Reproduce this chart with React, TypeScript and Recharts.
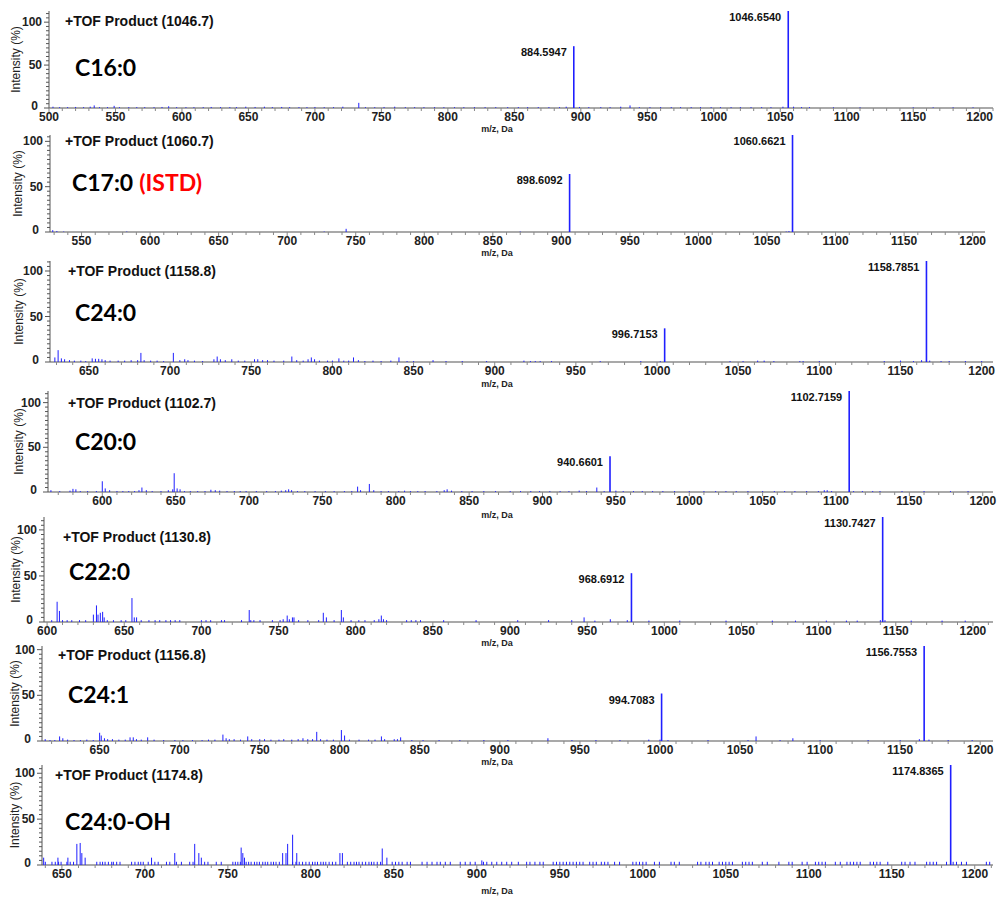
import React from 'react';
import { ScatterChart, Scatter, XAxis, YAxis } from 'recharts';

type Peak = [number, number];
type Main = { mz: number; h: number; label: string };

// x tick labels shared by all panels (each panel keeps the ones inside its range)
const mzLabels = [500, 550, 600, 650, 700, 750, 800, 850, 900, 950, 1000, 1050, 1100, 1150, 1200];
const intensityLabels = [0, 50, 100];

// ---- C16:0 ----
const c16Main: Main[] = [
  { mz: 894.7, h: 72, label: '884.5947' },
  { mz: 1056, h: 113, label: '1046.6540' },
];
const c16Noise: Peak[] = [
  [503, 1.5], [508, 1], [514, 1], [520, 1.2], [526, 1], [531, 1.5], [534, 3], [538, 1], [544, 1], [549, 2.5],
  [553, 1], [560, 1], [566, 1], [572, 1], [579, 1], [585, 1.2], [590, 2], [596, 1], [603, 1], [609, 1],
  [616, 1], [622, 1.2], [629, 1], [636, 1], [641, 1], [648, 1.5], [655, 1.2], [662, 1.5], [668, 1], [675, 1.2],
  [681, 1], [688, 1], [694, 1], [700, 1.2], [707, 1], [714, 1], [721, 1.5], [733, 6], [738, 1], [745, 1],
  [752, 1.2], [760, 1.5], [768, 1], [775, 1], [782, 1], [790, 1], [797, 1], [805, 1], [812, 1], [820, 1],
  [828, 1], [836, 1], [845, 1], [853, 1], [860, 1], [868, 1], [876, 1], [884, 1], [889, 1.5], [899, 1.2],
  [906, 1], [915, 1], [922, 1], [930, 1.5], [937, 3], [944, 1], [952, 1], [960, 1], [968, 1], [975, 1],
  [983, 1], [990, 1], [998, 1], [1005, 1], [1013, 1], [1020, 1], [1028, 1], [1036, 1], [1043, 1], [1052, 1.5],
  [1060, 1.5], [1066, 1], [1072, 1], [1090, 0.8], [1110, 0.8], [1150, 0.8], [1165, 0.8], [1180, 0.8], [1195, 0.8],
];

// ---- C17:0 (ISTD) ----
const c17Main: Main[] = [
  { mz: 906, h: 64, label: '898.6092' },
  { mz: 1068.6, h: 107, label: '1060.6621' },
];
const c17Noise: Peak[] = [
  [529, 2], [532, 1], [537, 0.5], [583, 0.5], [727, 0.5], [743, 3.5], [870, 0.5], [1064, 0.5], [1066, 1],
];

// ---- C24:0 ----
const c24Main: Main[] = [
  { mz: 1004.7, h: 37, label: '996.7153' },
  { mz: 1166, h: 111, label: '1158.7851' },
];
const c24Noise: Peak[] = [
  [629, 5], [631, 13], [633, 4], [635, 3], [638, 2], [641, 1.5], [645, 1.5], [648, 1], [652, 4], [654, 3.5],
  [656, 3.5], [658, 3], [660, 2], [663, 1.5], [668, 1.5], [672, 1.5], [676, 2], [680, 2], [682, 10], [684, 2],
  [688, 1.5], [692, 1.5], [696, 1], [702, 10], [706, 2], [709, 3], [711, 2], [715, 1.5], [720, 1], [727, 3],
  [729, 6], [731, 3], [734, 2], [738, 3], [742, 1.5], [746, 1.5], [752, 3], [754, 3], [757, 2], [760, 2],
  [764, 1.5], [770, 1.5], [775, 6], [778, 2], [782, 1.5], [785, 3], [787, 5], [789, 3], [792, 1.5], [797, 1.5],
  [800, 1.5], [804, 4], [807, 1.5], [810, 1.5], [813, 5], [816, 2], [820, 1], [825, 1.5], [830, 1], [836, 1.5],
  [841, 5], [846, 1], [850, 1], [862, 2], [870, 1], [880, 1], [895, 1], [918, 1.5], [922, 1], [925, 1],
  [928, 1], [935, 1], [965, 1], [990, 1], [1002, 1], [1045, 1], [1053, 1], [1062, 1.5], [1066, 1.5], [1072, 1],
  [1088, 1], [1090, 1], [1100, 1], [1140, 1], [1150, 1.5], [1158, 1], [1163, 2], [1168, 1.5], [1175, 1], [1180, 1],
  [1190, 1], [1200, 1],
];

// ---- C20:0 ----
const c20Main: Main[] = [
  { mz: 946, h: 40, label: '940.6601' },
  { mz: 1109, h: 113, label: '1102.7159' },
];
const c20Noise: Peak[] = [
  [565, 2], [571, 1], [578, 1.5], [580, 3.5], [582, 3], [585, 1], [590, 1], [596, 1], [600, 12], [602, 4],
  [605, 2], [610, 1], [614, 1], [618, 1], [622, 1], [625, 2], [627, 5], [630, 2], [634, 1], [640, 1],
  [645, 2], [648, 3], [649, 21], [651, 4], [653, 3], [656, 1], [660, 1], [665, 1], [670, 1], [674, 2.5],
  [677, 2], [680, 1.5], [685, 1], [690, 1], [694, 1], [698, 1], [705, 1], [712, 1], [718, 1], [722, 1.5],
  [725, 2], [727, 3], [729, 2], [733, 1], [738, 1], [745, 1], [752, 1], [758, 1], [765, 1], [770, 1],
  [774, 6], [776, 2], [782, 9], [785, 2], [790, 1], [795, 1], [802, 1], [806, 1.5], [810, 1], [815, 1],
  [820, 1], [828, 1], [833, 2], [835, 3], [838, 1.5], [845, 1], [852, 1], [860, 1], [868, 1], [878, 1],
  [885, 1], [892, 1], [898, 1], [905, 1], [912, 1], [918, 1], [925, 1.5], [930, 1], [937, 5], [942, 1],
  [950, 1.5], [955, 1], [962, 1], [968, 1], [975, 1], [982, 1], [990, 1], [1000, 1], [1010, 1], [1018, 1],
  [1025, 1], [1032, 1], [1040, 1], [1050, 1], [1058, 1], [1065, 1], [1072, 1], [1080, 1], [1088, 1], [1092, 2],
  [1094, 2], [1097, 1], [1112, 1], [1118, 1], [1125, 1], [1130, 1], [1145, 1], [1160, 1], [1178, 1], [1190, 1],
];

// ---- C22:0 ----
const c22Main: Main[] = [
  { mz: 978.7, h: 53, label: '968.6912' },
  { mz: 1141.5, h: 114, label: '1130.7427' },
];
const c22Noise: Peak[] = [
  [603, 2], [606.5, 22], [608, 12], [610, 2], [613, 2], [616, 2], [621, 2], [625, 2], [630, 8], [632, 18],
  [633, 8], [634.5, 10], [636, 11], [637, 5], [639, 2], [643, 2], [648, 2], [651, 2], [655, 26], [656.5, 5],
  [658, 5], [661, 2], [666, 2], [670, 2], [673, 2], [677, 2], [680, 2], [683, 2], [686, 2], [700, 2],
  [703, 2], [706, 2], [713, 2], [715, 2], [726, 2], [731, 13], [732, 2], [734, 2], [738, 2], [746, 2],
  [751, 2], [753, 3], [755.6, 7], [757, 3], [759, 5], [760, 5], [763, 2], [769, 2], [776, 2], [779, 10],
  [781, 5], [786, 2], [790.7, 13], [792, 5], [797, 2], [802, 2], [806, 2], [812, 2], [815, 3], [816.6, 7],
  [818, 3], [820, 2], [833, 2], [836, 2], [839, 2], [842, 2], [857, 2], [878, 2], [905, 2], [925, 2],
  [940, 2], [948, 5], [955, 1.5], [965, 3], [976, 2], [990, 1.5], [1010, 1.5], [1040, 1.5], [1070, 1.5], [1085, 1.5],
  [1105, 1.5], [1118, 1.5], [1125, 1.5], [1140, 2], [1143, 2], [1160, 1.5], [1180, 1.5], [1195, 1.5],
];

// ---- C24:1 ----
const c241Main: Main[] = [
  { mz: 1001, h: 52, label: '994.7083' },
  { mz: 1165, h: 104, label: '1156.7553' },
];
const c241Noise: Peak[] = [
  [616, 2], [619, 1], [622, 1], [625, 5], [627, 3], [630, 1.5], [634, 1], [638, 1], [642, 1.5], [646, 1],
  [650, 9], [651, 6], [653, 3], [655, 2], [658, 2], [662, 1.5], [666, 1.5], [669, 4], [671, 4], [673, 2],
  [676, 1.5], [680, 4], [684, 1.5], [690, 1], [697, 1], [702, 1], [708, 1], [714, 1], [718, 1.5], [722, 1.5],
  [727, 7], [729, 3], [731, 2], [734, 2], [738, 1.5], [742.5, 5], [745, 2], [750, 2], [753, 2], [757, 1.5],
  [762, 1.5], [765, 2], [770, 1.5], [774, 2], [777, 3], [780, 2], [783, 2], [785.6, 10], [788, 2], [792, 1.5],
  [796, 1.5], [801, 12], [803, 6], [806, 1.5], [812, 1.5], [818, 1.5], [822, 1.5], [826, 5], [828, 2], [834, 2],
  [836, 2], [838, 4], [845, 1], [852, 1], [862, 1], [875, 1], [890, 1], [905, 1], [930, 3], [945, 1],
  [960, 1], [975, 1], [993, 1.5], [1000, 1.5], [1005, 1], [1030, 1], [1055, 1], [1060, 5], [1075, 1], [1083, 3],
  [1100, 1], [1130, 1], [1150, 1], [1162, 2], [1168, 1.5], [1180, 1], [1195, 1],
];

// ---- C24:0-OH ----
const c24ohMain: Main[] = [{ mz: 1185.5, h: 109, label: '1174.8365' }];
const c24ohTall: Peak[] = [
  [639, 8], [647.6, 8], [653.6, 8], [659, 23], [661, 24], [662, 13], [664, 8], [704, 8], [718, 13], [730, 23],
  [732.5, 13], [734, 8], [758, 19], [759, 13], [760, 8], [783, 13], [785, 13], [786, 23], [789, 33], [791.5, 13],
  [817.5, 13], [819, 13], [843, 18], [845.8, 8], [903, 5],
];
const c24ohLow: Peak[] = [
  [640, 3.5], [644, 3.5], [646, 3.5], [648, 3.5], [649.5, 3.5], [653, 3.5], [655, 3.5], [657, 3.5], [671, 3.5], [673, 3.5],
  [674.5, 3.5], [676, 3.5], [678, 3.5], [680, 3.5], [681, 3.5], [683, 3.5], [685, 3.5], [692, 3.5], [694, 3.5], [696, 3.5],
  [697.5, 3.5], [699, 3.5], [702, 3.5], [706, 3.5], [708, 3.5], [713, 3.5], [715, 3.5], [719, 3.5], [722, 3.5], [727, 3.5],
  [729, 3.5], [736, 3.5], [738, 3.5], [743, 3.5], [746, 3.5], [753, 3.5], [754.5, 3.5], [756, 3.5], [757.5, 3.5], [761, 3.5],
  [762.5, 3.5], [764, 3.5], [766, 3.5], [767.5, 3.5], [769, 3.5], [771, 3.5], [772.5, 3.5], [774, 3.5], [776, 3.5], [777.5, 3.5],
  [779, 3.5], [781, 3.5], [789, 3.5], [791, 3.5], [793, 3.5], [795, 3.5], [797, 3.5], [799, 3.5], [801, 3.5], [802.5, 3.5],
  [804, 3.5], [806, 3.5], [807.5, 3.5], [809, 3.5], [811, 3.5], [813, 3.5], [815, 3.5], [822, 3.5], [824, 3.5], [826, 3.5],
  [827.5, 3.5], [829, 3.5], [831, 3.5], [833, 3.5], [835, 3.5], [836.5, 3.5], [838, 3.5], [840, 3.5], [842, 3.5], [849, 3.5],
  [851, 3.5], [853, 3.5], [855, 3.5], [858, 3.5], [860, 3.5], [867, 3.5], [870, 3.5], [873, 3.5], [876, 3.5], [878, 3.5],
  [881, 3.5], [884, 3.5], [890, 3.5], [893, 3.5], [896, 3.5], [899, 3.5], [904, 3.5], [906, 3.5], [909, 3.5], [912, 3.5],
  [915, 3.5], [918, 3.5], [921, 3.5], [925, 3.5], [930, 3.5], [932, 3.5], [935, 3.5], [938, 3.5], [940, 3.5], [946, 3.5],
  [948, 3.5], [950, 3.5], [952, 3.5], [954, 3.5], [956, 3.5], [958, 3.5], [960, 3.5], [962, 3.5], [964, 3.5], [968, 3.5],
  [970, 3.5], [972, 3.5], [975, 3.5], [977, 3.5], [979, 3.5], [983, 3.5], [986, 3.5], [994, 3.5], [996, 3.5], [998, 3.5],
  [1000, 3.5], [1002, 3.5], [1007, 3.5], [1010, 3.5], [1017, 3.5], [1019, 3.5], [1022, 3.5], [1033, 3.5], [1035, 3.5], [1038, 3.5],
  [1040, 3.5], [1042, 3.5], [1046, 3.5], [1048, 3.5], [1050, 3.5], [1052, 3.5], [1054, 3.5], [1060, 3.5], [1062, 3.5], [1064, 3.5],
  [1066, 3.5], [1072, 3.5], [1075, 3.5], [1082, 3.5], [1088, 3.5], [1090, 3.5], [1096, 3.5], [1099, 3.5], [1104, 3.5], [1106, 3.5],
  [1108, 3.5], [1110, 3.5], [1116, 3.5], [1119, 3.5], [1123, 3.5], [1125, 3.5], [1127, 3.5], [1129, 3.5], [1131, 3.5], [1137, 3.5],
  [1139, 3.5], [1141, 3.5], [1143, 3.5], [1147.6, 3.5], [1156, 3.5], [1158, 3.5], [1161, 3.5], [1164, 3.5], [1171, 3.5], [1173, 3.5],
  [1175, 3.5], [1177, 3.5], [1183, 3.5], [1187, 3.5], [1189, 3.5], [1192, 3.5], [1195, 3.5], [1207, 3.5], [1209, 3.5],
];

const SANS = '"Liberation Sans", Arial, sans-serif';
const CALIBRI = 'Lato, "Open Sans", sans-serif';
const BLUE = '#1f1fff';
const AXIS_PAD = 4;
const AXIS_H = 28;

interface PanelSpec {
  title: string;
  compound: string;
  extra?: string;
  left: number; // y axis x
  right: number;
  top: number; // plot top y
  base: number; // baseline y
  xMin: number;
  xMax: number;
  yMax: number;
  noise: Peak[];
  main: Main[];
  titleX: number;
  titleY: number;
  compX: number;
  compY: number;
  intX: number;
  mzY: number;
}

const panels: PanelSpec[] = [
  { title: '+TOF Product (1046.7)', compound: 'C16:0', left: 49, right: 993, top: 11, base: 108, xMin: 500, xMax: 1210, yMax: 113,
    noise: c16Noise, main: c16Main, titleX: 65, titleY: 21, compX: 75, compY: 68, intX: 16, mzY: 129 },
  { title: '+TOF Product (1060.7)', compound: 'C17:0', extra: '(ISTD)', left: 50, right: 985, top: 135, base: 232, xMin: 527, xMax: 1209, yMax: 107,
    noise: c17Noise, main: c17Main, titleX: 65, titleY: 141, compX: 72, compY: 183, intX: 18, mzY: 253 },
  { title: '+TOF Product (1158.8)', compound: 'C24:0', left: 50, right: 993, top: 261, base: 362, xMin: 626, xMax: 1207, yMax: 111,
    noise: c24Noise, main: c24Main, titleX: 68, titleY: 271, compX: 75, compY: 313, intX: 19, mzY: 384 },
  { title: '+TOF Product (1102.7)', compound: 'C20:0', left: 48, right: 993, top: 391, base: 492, xMin: 563, xMax: 1207, yMax: 113,
    noise: c20Noise, main: c20Main, titleX: 68, titleY: 403, compX: 75, compY: 442, intX: 19, mzY: 515 },
  { title: '+TOF Product (1130.8)', compound: 'C22:0', left: 44, right: 993, top: 517, base: 622, xMin: 598, xMax: 1213, yMax: 114,
    noise: c22Noise, main: c22Main, titleX: 63, titleY: 537, compX: 69, compY: 572, intX: 16, mzY: 643 },
  { title: '+TOF Product (1156.8)', compound: 'C24:1', left: 42, right: 993, top: 646, base: 741, xMin: 614, xMax: 1208, yMax: 104,
    noise: c241Noise, main: c241Main, titleX: 58, titleY: 655, compX: 68, compY: 695, intX: 15, mzY: 762 },
  { title: '+TOF Product (1174.8)', compound: 'C24:0-OH', left: 42, right: 993, top: 765, base: 865, xMin: 638, xMax: 1211, yMax: 109,
    noise: [...c24ohLow, ...c24ohTall], main: c24ohMain, titleX: 55, titleY: 775, compX: 65, compY: 822, intX: 15, mzY: 891 },
];

const YTick = (props: any) => {
  const { x, y, payload } = props;
  const v = payload.value;
  const major = intensityLabels.includes(v);
  return (
    <g>
      <line x1={x - (major ? 5 : 3)} x2={x} y1={y} y2={y} stroke="#555" strokeWidth={1} />
      {major && (
        <text x={v === 0 ? x - 11 : x - 7} y={v === 0 ? y + 2 : y + 4} textAnchor="end" fontFamily={SANS} fontWeight="bold" fontSize={12} fill="#222">
          {v}
        </text>
      )}
    </g>
  );
};

const XTick = (props: any) => {
  const { x, y, payload } = props;
  const v = payload.value;
  const major = mzLabels.includes(v);
  return (
    <g>
      <line x1={x} x2={x} y1={y} y2={y + (major ? 4 : 3)} stroke="#888" strokeWidth={1} />
      {major && (
        <text x={x} y={y + 13} textAnchor="middle" fontFamily={SANS} fontWeight="bold" fontSize={12} fill="#222">
          {v}
        </text>
      )}
    </g>
  );
};

const Panel = ({ spec }: { spec: PanelSpec }) => {
  const { left, right, top, base, xMin, xMax, yMax } = spec;
  const height = base - top + AXIS_PAD + AXIS_H;
  const plotBottom = AXIS_PAD + (base - top);

  const data = [
    ...spec.noise.map(([mz, h]) => ({ mz, h })),
    ...spec.main.map((m) => ({ mz: m.mz, h: m.h, label: m.label })),
  ];

  const xTicks: number[] = [];
  for (let t = Math.ceil(xMin / 10) * 10; t <= xMax; t += 10) xTicks.push(t);
  const yTicks: number[] = [];
  for (let t = 0; t <= yMax; t += 5) yTicks.push(t);

  const renderPeak = (p: any) => {
    const { cx, cy, payload } = p;
    if (cx == null || cy == null) return <g />;
    const isMain = !!payload.label;
    return (
      <g>
        <line x1={cx} x2={cx} y1={cy} y2={plotBottom} stroke={BLUE} strokeWidth={isMain ? 1.6 : 1} />
        {isMain && (
          <text x={cx - 7} y={cy + 10} textAnchor="end" fontFamily={SANS} fontWeight="bold" fontSize={11} fill="#111">
            {payload.label}
          </text>
        )}
      </g>
    );
  };

  return (
    <div style={{ position: 'absolute', left: 0, top: top - AXIS_PAD }}>
      <ScatterChart width={997} height={height} margin={{ top: AXIS_PAD, right: 997 - right, bottom: 0, left: 0 }}>
        <XAxis
          type="number"
          dataKey="mz"
          domain={[xMin, xMax]}
          ticks={xTicks}
          interval={0}
          allowDataOverflow
          height={AXIS_H}
          tickSize={0}
          tickMargin={0}
          tickLine={false}
          tick={<XTick />}
          axisLine={{ stroke: '#8c8c8c', strokeWidth: 1.5 }}
        />
        <YAxis
          type="number"
          dataKey="h"
          domain={[0, yMax]}
          ticks={yTicks}
          interval={0}
          allowDataOverflow
          width={left}
          tickSize={0}
          tickMargin={0}
          tickLine={false}
          tick={<YTick />}
          axisLine={{ stroke: '#555', strokeWidth: 1 }}
        />
        <Scatter data={data} isAnimationActive={false} shape={renderPeak} />
      </ScatterChart>
    </div>
  );
};

export default function App() {
  return (
    <div style={{ position: 'absolute', left: 0, top: 0, width: 997, height: 898, background: '#fff', overflow: 'hidden' }}>
      {panels.map((p) => (
        <Panel key={p.title} spec={p} />
      ))}
      <svg width={997} height={898} style={{ position: 'absolute', left: 0, top: 0, pointerEvents: 'none' }}>
        {panels.map((p) => {
          const midY = (p.top + p.base) / 2;
          return (
            <g key={p.title}>
              <text x={p.titleX} y={p.titleY + 5} fontFamily={SANS} fontWeight="bold" fontSize={14} fill="#111">
                {p.title}
              </text>
              <text x={p.compX} y={p.compY + 8} fontFamily={CALIBRI} fontWeight="bold" fontSize={23} fill="#000">
                {p.compound}
                {p.extra && (
                  <tspan fill="#ff0000" dx={6}>
                    {p.extra}
                  </tspan>
                )}
              </text>
              <text
                x={p.intX}
                y={midY}
                transform={`rotate(-90 ${p.intX} ${midY})`}
                textAnchor="middle"
                dominantBaseline="central"
                fontFamily={SANS}
                fontSize={12}
                fill="#222"
              >
                Intensity (%)
              </text>
              <text x={497} y={p.mzY + 3} textAnchor="middle" fontFamily={SANS} fontWeight="bold" fontSize={9} fill="#222">
                m/z, Da
              </text>
            </g>
          );
        })}
      </svg>
    </div>
  );
}
